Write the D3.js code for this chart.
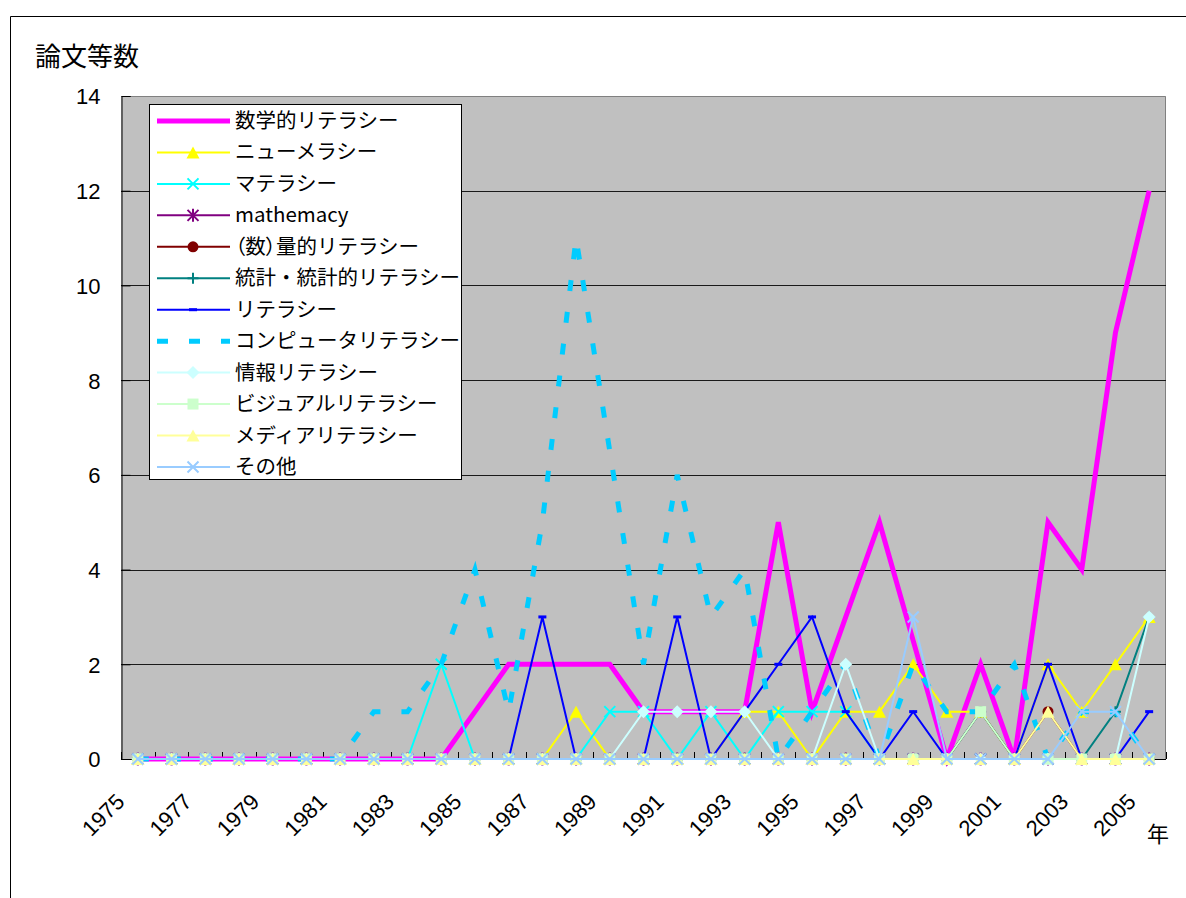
<!DOCTYPE html>
<html><head><meta charset="utf-8">
<script src="https://cdn.jsdelivr.net/npm/d3@7/dist/d3.min.js"></script>
<style>
body{margin:0;background:#fff}
svg{display:block}
</style>
</head><body>
<svg id="chart" width="1186" height="898"></svg>
<script>
// ---------- data ----------
const years = [1975,1976,1977,1978,1979,1980,1981,1982,1983,1984,1985,1986,1987,1988,1989,1990,
               1991,1992,1993,1994,1995,1996,1997,1998,1999,2000,2001,2002,2003,2004,2005];
const yTicks = [0,2,4,6,8,10,12,14];
const xTickLabels = [1975,1977,1979,1981,1983,1985,1987,1989,1991,1993,1995,1997,1999,2001,2003,2005];

const seriesNames = ["数学的リテラシー","ニューメラシー","マテラシー","mathemacy","（数）量的リテラシー",
  "統計・統計的リテラシー","リテラシー","コンピュータリテラシー","情報リテラシー","ビジュアルリテラシー",
  "メディアリテラシー","その他"];

const mathLit   = [0,0,0,0,0, 0,0,0,0,0, 1,2,2,2,2, 1,1,1,1,5, 1,3,5,2.5,0, 2,0,5,4,9, 12];
const numeracy  = [0,0,0,0,0, 0,0,0,0,0, 0,0,0,1,0, 0,0,0,1,1, 0,1,1,2,1, 1,0,2,1,2, 3];
const materacy  = [0,0,0,0,0, 0,0,0,0,2, 0,0,0,0,1, 1,0,1,0,1, 1,1,0,0,0, 0,0,0,0,0, 0];
const mathemacy = [0,0,0,0,0, 0,0,0,0,0, 0,0,0,0,0, 0,0,0,0,0, 0,0,0,0,0, 0,0,0,0,0, 0];
const quantLit  = [0,0,0,0,0, 0,0,0,0,0, 0,0,0,0,0, 0,0,0,0,0, 0,0,0,0,0, 1,0,1,0,0, 0];
const statLit   = [0,0,0,0,0, 0,0,0,0,0, 0,0,0,0,0, 0,0,0,0,0, 0,0,0,0,0, 1,0,0,0,1, 3];
const literacy  = [0,0,0,0,0, 0,0,0,0,0, 0,0,3,0,0, 0,3,0,1,2, 3,1,0,1,0, 0,0,2,0,0, 1];
const computer  = [0,0,0,0,0, 0,0,1,1,2, 4,1,5,11,6.5, 2,6,3,4,0, 1,2,0,2,1, 1,2,0,1,1, 0];
const infoLit   = [0,0,0,0,0, 0,0,0,0,0, 0,0,0,0,0, 1,1,1,1,0, 0,2,0,0,0, 0,0,0,0,0, 3];
const visualLit = [0,0,0,0,0, 0,0,0,0,0, 0,0,0,0,0, 0,0,0,0,0, 0,0,0,0,0, 1,0,0,0,0, 0];
const mediaLit  = [0,0,0,0,0, 0,0,0,0,0, 0,0,0,0,0, 0,0,0,0,0, 0,0,0,0,0, 0,0,1,0,0, 0];
const otherLit  = [0,0,0,0,0, 0,0,0,0,0, 0,0,0,0,0, 0,0,0,0,0, 0,0,0,3,0, 0,0,0,1,1, 0];

const seriesValues = [mathLit,numeracy,materacy,mathemacy,quantLit,statLit,literacy,computer,infoLit,visualLit,mediaLit,otherLit];

// ---------- styles ----------
const styles = [
  {color:"#FF00FF", width:5,   marker:null},
  {color:"#FFFF00", width:2,   marker:"triangle"},
  {color:"#00FFFF", width:2,   marker:"x"},
  {color:"#800080", width:2,   marker:"star"},
  {color:"#800000", width:2,   marker:"circle"},
  {color:"#008080", width:2,   marker:"plus"},
  {color:"#0000FF", width:2,   marker:"dash"},
  {color:"#00CCFF", width:5,   marker:null, dash:"11,21"},
  {color:"#CCFFFF", width:2,   marker:"diamond"},
  {color:"#CCFFCC", width:2,   marker:"square"},
  {color:"#FFFF99", width:2,   marker:"triangle"},
  {color:"#99CCFF", width:2,   marker:"x"}
];

const svg = d3.select("#chart");
const PL = 121, PR = 1166, PT = 96, PB = 759;
const x = d3.scaleBand().domain(years).range([PL, PR]).padding(0);
const y = d3.scaleLinear().domain([0, 14]).range([PB, PT]);
const cx = yr => x(yr) + x.bandwidth() / 2;

const NUMFONT = "'Liberation Sans', Arial, sans-serif";
const JPFONT = "'Noto Sans CJK JP', 'Noto Sans', sans-serif";

// chart area frame
svg.append("path").attr("d", "M10.5,898V16.5H1186").attr("fill", "none").attr("stroke", "#000").attr("stroke-width", 1);

// title
svg.append("text").attr("x", 35).attr("y", 66).attr("font-family", JPFONT).attr("font-size", 26)
  .attr("fill", "#000").text("論文等数");

// plot area
svg.append("rect").attr("x", PL).attr("y", PT).attr("width", PR - PL).attr("height", PB - PT).attr("fill", "#C0C0C0");
svg.append("path").attr("d", `M${PL},${PT+0.5}H${PR-0.5}V${PB}`).attr("fill", "none").attr("stroke", "#808080").attr("stroke-width", 1);

// gridlines
svg.append("g").selectAll("line").data(yTicks.filter(v => v > 0 && v < 14)).join("line")
  .attr("x1", PL).attr("x2", PR).attr("y1", d => Math.round(y(d)) + 0.5).attr("y2", d => Math.round(y(d)) + 0.5)
  .attr("stroke", "#1a1a1a").attr("stroke-width", 1);

// y axis
const yAxis = d3.axisLeft(y).tickValues(yTicks).tickSize(-9).tickPadding(21).tickFormat(d3.format("d"));
const gy = svg.append("g").attr("transform", `translate(${PL + 0.5},0)`).call(yAxis);
gy.select(".domain").attr("stroke", "#000");
gy.selectAll(".tick line").attr("stroke", "#000");
gy.selectAll(".tick text").attr("font-family", NUMFONT).attr("font-size", 22).attr("fill", "#000")
  .attr("x", -21).attr("dy", "0.36em");

// x axis line and ticks at category boundaries
svg.append("line").attr("x1", PL).attr("x2", PR).attr("y1", PB + 0.5).attr("y2", PB + 0.5).attr("stroke", "#000");
const bounds = years.map(yr => x(yr)).concat([PR]);
svg.append("g").selectAll("line").data(bounds).join("line")
  .attr("x1", d => Math.round(d) + 0.5).attr("x2", d => Math.round(d) + 0.5)
  .attr("y1", PB - 7).attr("y2", PB).attr("stroke", "#000");

// x labels
svg.append("g").selectAll("text").data(xTickLabels).join("text")
  .attr("transform", d => `translate(${cx(d) - 12},803) rotate(-45)`)
  .attr("text-anchor", "end").attr("font-family", NUMFONT).attr("font-size", 22).attr("fill", "#000")
  .text(d => d);
svg.append("text").attr("x", 1158).attr("y", 842).attr("text-anchor", "middle")
  .attr("font-family", JPFONT).attr("font-size", 22).attr("fill", "#000").text("年");

// marker drawing
function drawMarker(g, type, color) {
  const s = 5.5;
  if (type === "triangle") {
    g.append("path").attr("d", `M0,-6L6.5,6L-6.5,6Z`).attr("fill", color);
  } else if (type === "x") {
    g.append("path").attr("d", `M${-s},${-s}L${s},${s}M${-s},${s}L${s},${-s}`).attr("stroke", color).attr("stroke-width", 2).attr("fill", "none");
  } else if (type === "star") {
    g.append("path").attr("d", `M${-s},${-s}L${s},${s}M${-s},${s}L${s},${-s}M0,${-s-1}V${s+1}`).attr("stroke", color).attr("stroke-width", 2).attr("fill", "none");
  } else if (type === "circle") {
    g.append("circle").attr("r", 5.5).attr("fill", color);
  } else if (type === "plus") {
    g.append("path").attr("d", `M${-s},0H${s}M0,${-s}V${s}`).attr("stroke", color).attr("stroke-width", 2).attr("fill", "none");
  } else if (type === "dash") {
    g.append("rect").attr("x", -4).attr("y", -1.5).attr("width", 8).attr("height", 3).attr("fill", color);
  } else if (type === "diamond") {
    g.append("path").attr("d", `M0,-6.5L6.5,0L0,6.5L-6.5,0Z`).attr("fill", color);
  } else if (type === "square") {
    g.append("rect").attr("x", -5.5).attr("y", -5.5).attr("width", 11).attr("height", 11).attr("fill", color);
  }
}

// series
const line = d3.line().x((d, i) => cx(years[i])).y(d => y(d));
seriesValues.forEach((vals, si) => {
  const st = styles[si];
  const g = svg.append("g");
  g.append("path").attr("d", line(vals)).attr("fill", "none").attr("stroke", st.color)
    .attr("stroke-width", st.width).attr("stroke-linejoin", "miter")
    .attr("stroke-dasharray", st.dash || null);
  if (st.marker) {
    vals.forEach((v, i) => {
      const mg = g.append("g").attr("transform", `translate(${cx(years[i])},${y(v)})`);
      drawMarker(mg, st.marker, st.color);
    });
  }
});

// legend
const LX = 149, LY = 104, LW = 312, LH = 375;
const lg = svg.append("g");
lg.append("rect").attr("x", LX + 0.5).attr("y", LY + 0.5).attr("width", LW).attr("height", LH)
  .attr("fill", "#fff").attr("stroke", "#000").attr("stroke-width", 1);
seriesNames.forEach((name, i) => {
  const st = styles[i];
  const yy = 121 + i * 31.45;
  lg.append("line").attr("x1", 157).attr("x2", 230).attr("y1", yy).attr("y2", yy)
    .attr("stroke", st.color).attr("stroke-width", st.width).attr("stroke-dasharray", st.dash || null);
  if (st.marker) drawMarker(lg.append("g").attr("transform", `translate(193,${yy})`), st.marker, st.color);
  const t = lg.append("text").attr("x", 235).attr("y", yy + 7).attr("font-family", JPFONT).attr("font-size", 20.5)
    .attr("fill", "#000");
  if (name.startsWith("（")) {
    t.append("tspan").style("font-feature-settings", "'palt'").text(name.slice(0, 3));
    t.append("tspan").text(name.slice(3));
  } else {
    t.text(name);
  }
});
</script>
</body></html>
